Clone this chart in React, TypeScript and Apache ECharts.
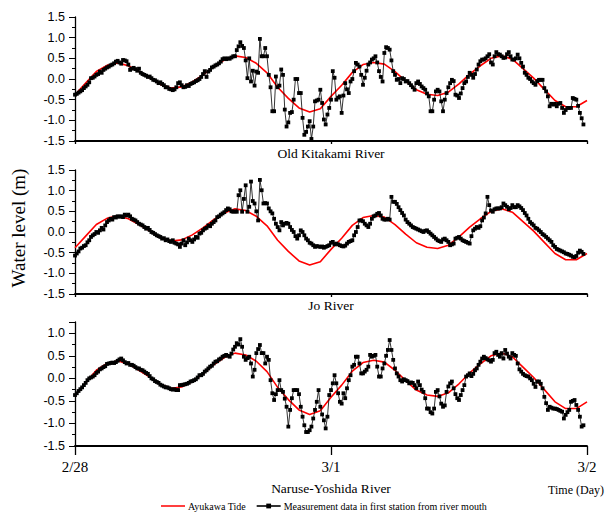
import React, { useEffect, useRef } from "react";
import * as echarts from "echarts";

// Hourly Ayukawa tide (m), t = 0..48 h from 2/28 00:00
const TIDE = [
  -0.38, -0.1, 0.18, 0.33, 0.39, 0.32, 0.18, 0.03, -0.13, -0.22, -0.19, -0.07,
  0.1, 0.3, 0.46, 0.56, 0.52, 0.38, 0.15, -0.2, -0.47, -0.7, -0.8, -0.72,
  -0.42, -0.15, 0.16, 0.35, 0.4, 0.36, 0.18, -0.05, -0.26, -0.37, -0.4, -0.32,
  -0.12, 0.12, 0.32, 0.5, 0.56, 0.48, 0.25, 0.02, -0.25, -0.52, -0.67, -0.67, -0.52,
];

// Measurement data, 10-minute steps from 2/28 00:00
const OLD_KITAKAMI = [
  -0.38, -0.36, -0.33, -0.3, -0.27, -0.22,
  -0.18, -0.14, -0.08, 0.02, 0.03, 0.06,
  0.1, 0.12, 0.18, 0.15, 0.22, 0.25,
  0.28, 0.3, 0.33, 0.35, 0.38, 0.42,
  0.44, 0.4, 0.37, 0.46, 0.45, 0.43,
  0.35, 0.22, 0.25, 0.27, 0.24, 0.2,
  0.25, 0.15, 0.12, 0.1, 0.08, 0.05,
  0.06, 0.02, -0.02, -0.03, -0.06, -0.1,
  -0.08, -0.12, -0.15, -0.2, -0.2, -0.24,
  -0.25, -0.27, -0.25, -0.2, -0.1, -0.08,
  -0.15, -0.2, -0.19, -0.15, -0.17, -0.12,
  -0.1, -0.08, -0.05, -0.03, 0.0, 0.05,
  0.12, 0.19, 0.05, 0.18, 0.22, 0.28,
  0.3, 0.33, 0.35, 0.38, 0.42, 0.48,
  0.5, 0.48, 0.5, 0.49, 0.52, 0.55,
  0.55, 0.7, 0.79, 0.89, 0.8, 0.75,
  0.45, 0.02, 0.5, -0.06, 0.2, -0.16,
  0.18, 0.15, 0.97, 0.55, 0.55, 0.75,
  0.55, 0.1, -0.2, -0.78, -0.78, 0.06,
  -0.2, -0.16, 0.23, 0.1, -0.74, -1.15,
  -1.05, -0.82, -0.8, -0.5, 0.0, 0.0,
  -0.34, -0.34, -0.94, -1.35, -1.28, -1.15,
  -1.02, -1.45, -1.15, -0.54, -0.52, -0.5,
  -0.26, -0.58, -0.98, -1.1, -0.86, -0.7,
  -0.5, 0.19, 0.03, -0.5, -0.45, -0.42,
  -0.82, -0.4, -0.1, -0.25, -0.34, -0.06,
  0.0, 0.19, 0.39, 0.35, 0.3, 0.1,
  -0.14, 0.03, 0.2, 0.35, 0.4, 0.47,
  0.5, 0.55, 0.4, 0.19, 0.05, -0.06,
  0.63, 0.77, 0.75, 0.71, 0.45, 0.19,
  0.1, -0.02, 0.0, -0.1, 0.02, 0.0,
  -0.06, -0.05, -0.1, -0.15, -0.2, -0.26,
  -0.1, -0.06, -0.12, -0.18, -0.22, -0.26,
  -0.35, -0.42, -0.78, -0.78, -0.5, -0.3,
  -0.26, -0.3, -0.54, -0.78, -0.5, -0.34,
  -0.2, -0.1, -0.02, -0.05, -0.38, -0.4,
  -0.46, -0.35, -0.22, -0.1, -0.06, 0.05,
  0.15, 0.1, 0.03, 0.12, 0.23, 0.35,
  0.43, 0.47, 0.47, 0.5, 0.55, 0.6,
  0.4, 0.35, 0.55, 0.65, 0.6, 0.59,
  0.55, 0.51, 0.52, 0.6, 0.65, 0.55,
  0.47, 0.47, 0.5, 0.59, 0.5, 0.39,
  0.3, 0.15, 0.1, 0.03, 0.0, -0.06,
  -0.1, -0.14, -0.05, -0.02, -0.02, -0.02,
  -0.22, -0.3, -0.42, -0.66, -0.6, -0.62,
  -0.6, -0.66, -0.6, -0.58, -0.7, -0.82,
  -0.75, -0.7, -0.7, -0.7, -0.46, -0.48,
  -0.5, -0.65, -0.82, -0.95, -1.1,
];

const JO = [
  -0.57, -0.52, -0.47, -0.4, -0.38, -0.34,
  -0.32, -0.25, -0.2, -0.12, -0.08, -0.05,
  0.0, -0.02, 0.04, 0.1, 0.06, 0.16,
  0.24, 0.28, 0.32, 0.3, 0.36, 0.35,
  0.38, 0.37, 0.38, 0.36, 0.42, 0.4,
  0.42, 0.38, 0.32, 0.3, 0.28, 0.24,
  0.2, 0.18, 0.16, 0.12, 0.08, 0.1,
  0.05, 0.0, -0.02, -0.05, -0.08, -0.1,
  -0.12, -0.16, -0.15, -0.2, -0.18, -0.22,
  -0.24, -0.2, -0.26, -0.28, -0.3, -0.36,
  -0.28, -0.2, -0.32, -0.25, -0.16, -0.2,
  -0.24, -0.18, -0.12, -0.14, -0.04, -0.02,
  0.04, 0.08, 0.1, 0.16, 0.14, 0.2,
  0.24, 0.28, 0.36, 0.38, 0.42, 0.45,
  0.48, 0.53, 0.57, 0.55, 0.5, 0.49,
  0.5, 0.49, 0.89, 1.01, 0.49, 0.8,
  1.13, 0.49, 0.61, 1.22, 0.75, 0.69,
  0.5, 0.28, 1.26, 1.01, 0.69, 0.7,
  0.69, 0.57, 0.5, 0.45, 0.32, 0.2,
  0.12, 0.04, 0.24, 0.16, 0.2, 0.22,
  0.2, 0.12, 0.05, 0.0, -0.1, -0.16,
  -0.08, 0.04, 0.0, -0.08, -0.16, -0.2,
  -0.26, -0.28, -0.32, -0.36, -0.34, -0.35,
  -0.36, -0.35, -0.38, -0.36, -0.34, -0.32,
  -0.26, -0.24, -0.3, -0.28, -0.3, -0.32,
  -0.34, -0.35, -0.33, -0.28, -0.24, -0.22,
  -0.2, -0.08, 0.0, 0.12, 0.28, 0.28,
  0.26, 0.2, 0.16, 0.12, 0.2, 0.32,
  0.38, 0.4, 0.44, 0.46, 0.4, 0.32,
  0.3, 0.3, 0.32, 0.3, 0.85, 0.73,
  0.73, 0.68, 0.6, 0.53, 0.46, 0.4,
  0.3, 0.24, 0.2, 0.16, 0.12, 0.1,
  0.08, 0.06, 0.04, 0.02, 0.0, 0.03,
  0.04, 0.0, -0.04, -0.08, -0.12, -0.16,
  -0.2, -0.22, -0.24, -0.18, -0.16, -0.2,
  -0.24, -0.32, -0.3, -0.28, -0.16, -0.14,
  -0.12, -0.16, -0.2, -0.22, -0.24, -0.26,
  -0.28, -0.1, 0.04, 0.08, 0.12, 0.1,
  0.14, 0.28, 0.35, 0.45, 0.85, 0.65,
  0.52, 0.49, 0.55, 0.57, 0.57, 0.57,
  0.6, 0.69, 0.65, 0.61, 0.55, 0.58,
  0.65, 0.6, 0.6, 0.65, 0.62, 0.58,
  0.53, 0.46, 0.4, 0.32, 0.24, 0.2,
  0.16, 0.1, 0.08, 0.04, 0.0, -0.05,
  -0.08, -0.12, -0.16, -0.2, -0.24, -0.32,
  -0.36, -0.41, -0.43, -0.45, -0.47, -0.49,
  -0.52, -0.53, -0.55, -0.57, -0.6, -0.61,
  -0.58, -0.5, -0.45, -0.48, -0.53,
];

const NARUSE_YOSHIDA = [
  -0.37, -0.33, -0.28, -0.24, -0.2, -0.15,
  -0.1, -0.04, 0.0, 0.02, 0.04, 0.07,
  0.12, 0.15, 0.2, 0.22, 0.25, 0.27,
  0.32, 0.33, 0.34, 0.35, 0.34, 0.36,
  0.39, 0.42, 0.44, 0.4, 0.36, 0.33,
  0.34, 0.3, 0.3, 0.28, 0.25, 0.22,
  0.22, 0.19, 0.18, 0.15, 0.12, 0.1,
  0.05, 0.0, -0.02, -0.06, -0.08, -0.1,
  -0.14, -0.16, -0.18, -0.2, -0.2, -0.22,
  -0.24, -0.25, -0.24, -0.26, -0.26, -0.15,
  -0.15, -0.14, -0.13, -0.12, -0.1, -0.07,
  -0.06, -0.04, -0.02, 0.02, 0.07, 0.07,
  0.1, 0.15, 0.18, 0.22, 0.26, 0.28,
  0.33, 0.37, 0.38, 0.42, 0.44, 0.48,
  0.5, 0.52, 0.5, 0.48, 0.55, 0.64,
  0.7, 0.78, 0.75, 0.87, 0.7, 0.48,
  0.41, 0.45, 0.48, 0.33, 0.04, 0.19,
  0.56, 0.65, 0.74, 0.56, 0.56, 0.33,
  0.48, 0.41, -0.04, -0.33, -0.48, -0.35,
  -0.26, -0.04, -0.26, -0.3, -0.45, -0.63,
  -1.07, -0.7, -0.44, -0.26, -0.26, -0.26,
  -0.35, -0.63, -0.85, -1.04, -1.19, -1.19,
  -1.15, -1.07, -0.89, -0.7, -0.52, -0.26,
  -0.63, -0.8, -0.93, -1.11, -0.85, -0.37,
  -0.26, -0.11, 0.07, -0.11, -0.33, -0.52,
  -0.56, -0.33, -0.44, -0.22, -0.04, 0.07,
  0.26, 0.3, 0.48, 0.48, 0.33, 0.11,
  0.11, 0.15, 0.19, 0.26, 0.52, 0.48,
  0.5, 0.52, 0.26, 0.04, 0.04, 0.22,
  0.33, 0.5, 0.63, 0.85, 0.63, 0.41,
  0.22, 0.11, 0.04, -0.04, -0.07, -0.02,
  -0.04, -0.06, -0.11, -0.09, -0.1, -0.15,
  -0.22, -0.07, -0.15, -0.25, -0.3, -0.44,
  -0.67, -0.67, -0.75, -0.78, -0.67, -0.3,
  -0.26, -0.4, -0.56, -0.63, -0.6, -0.3,
  -0.18, -0.11, -0.07, -0.22, -0.35, -0.44,
  -0.48, -0.37, -0.26, -0.15, 0.04, 0.07,
  0.11, 0.05, 0.1, 0.18, 0.22, 0.3,
  0.37, 0.44, 0.48, 0.45, 0.42, 0.4,
  0.37, 0.41, 0.56, 0.59, 0.52, 0.48,
  0.56, 0.44, 0.63, 0.55, 0.48, 0.44,
  0.56, 0.52, 0.5, 0.33, 0.2, 0.15,
  0.1, 0.07, 0.05, 0.04, 0.0, -0.04,
  -0.12, -0.19, -0.07, -0.07, -0.12, -0.22,
  -0.41, -0.55, -0.7, -0.63, -0.65, -0.67,
  -0.67, -0.68, -0.7, -0.72, -0.74, -0.89,
  -0.81, -0.75, -0.7, -0.52, -0.5, -0.48,
  -0.59, -0.7, -0.85, -1.07, -1.04,
];

const PANEL_TITLES = ["Old Kitakami River", "Jo River", "Naruse-Yoshida River"];
const X_TICK_LABELS: Record<number, string> = { 0: "2/28", 24: "3/1", 48: "3/2" };
const TIDE_NAME = "Ayukawa Tide";
const MEAS_NAME = "Measurement data in first station from river mouth";

const SERIF = "'Liberation Serif', 'Times New Roman', serif";
const SANS = "'Liberation Sans', Arial, sans-serif";

// thin horizontal bar icon inside a 24x6 box (corner dots keep the box size)
const LINE_ICON =
  "path://M0,0L0.01,0L0.01,0.01ZM0,2.2L24,2.2L24,3.8L0,3.8ZM23.99,5.99L24,5.99L24,6Z";

export default function App() {
  const ref = useRef<HTMLDivElement>(null);

  useEffect(() => {
    if (!ref.current) return;
    const chart = echarts.init(ref.current, undefined, { renderer: "svg" });

    const panels = [
      { data: OLD_KITAKAMI, top: 17, height: 124, max: 1.5 },
      { data: JO, top: 170, height: 124, max: 1.5 },
      { data: NARUSE_YOSHIDA, top: 322, height: 124, max: 1.25 },
    ];

    const grids = panels.map((p) => ({
      left: 75,
      width: 512,
      top: p.top,
      height: p.height,
      containLabel: false,
    }));

    const xAxes = panels.map((p, i) => ({
      type: "value",
      gridIndex: i,
      min: 0,
      max: 48,
      interval: 24,
      axisLine: { show: true, onZero: false, lineStyle: { color: "#000", width: 1.8 } },
      axisTick: { show: true, length: i === 2 ? 9 : 3, lineStyle: { color: "#000", width: 1.3 } },
      axisLabel: {
        show: i === 2,
        margin: 13,
        color: "#000",
        fontFamily: SERIF,
        fontSize: 15,
        formatter: (v: number) => X_TICK_LABELS[v] ?? "",
      },
      splitLine: { show: false },
    }));

    const yAxes = panels.map((p, i) => ({
      type: "value",
      gridIndex: i,
      min: -1.5,
      max: p.max,
      interval: 0.5,
      axisLine: { show: true, onZero: false, lineStyle: { color: "#000", width: 1.3 } },
      axisTick: { show: true, length: 6, lineStyle: { color: "#000", width: 1 } },
      minorTick: { show: true, splitNumber: 2, length: 3, lineStyle: { color: "#000", width: 1 } },
      axisLabel: {
        margin: 10,
        color: "#000",
        fontFamily: SANS,
        fontSize: 12.5,
        formatter: (v: number) =>
          Math.abs(v * 2 - Math.round(v * 2)) < 1e-6 ? v.toFixed(1) : "",
      },
      splitLine: { show: false },
    }));

    const series: any[] = [];
    panels.forEach((p, i) => {
      series.push({
        name: TIDE_NAME,
        type: "line",
        xAxisIndex: i,
        yAxisIndex: i,
        symbol: "none",
        data: TIDE.map((v, h) => [h, v]),
        lineStyle: { color: "#ff0000", width: 1.6 },
        itemStyle: { color: "#ff0000" },
        z: 2,
      });
      series.push({
        name: MEAS_NAME,
        type: "line",
        xAxisIndex: i,
        yAxisIndex: i,
        symbol: "rect",
        symbolSize: 3.8,
        showSymbol: true,
        data: p.data.map((v, k) => [k / 6, v]),
        lineStyle: { color: "#000", width: 0.8 },
        itemStyle: { color: "#000" },
        z: 3,
      });
    });

    const titleYs = [153, 305, 488];
    const graphic: any[] = PANEL_TITLES.map((t, i) => ({
      type: "text",
      x: 331,
      y: titleYs[i],
      style: {
        text: t,
        fill: "#000",
        font: `13.5px ${SERIF}`,
        align: "center",
        verticalAlign: "middle",
        textAlign: "center",
        textVerticalAlign: "middle",
      },
    }));
    graphic.push({
      type: "text",
      x: 576,
      y: 490,
      style: {
        text: "Time (Day)",
        fill: "#000",
        font: `12px ${SERIF}`,
        align: "center",
        verticalAlign: "middle",
        textAlign: "center",
        textVerticalAlign: "middle",
      },
    });
    graphic.push({
      type: "text",
      x: 18,
      y: 228,
      rotation: Math.PI / 2,
      style: {
        text: "Water level (m)",
        fill: "#000",
        font: `19px ${SERIF}`,
        align: "center",
        verticalAlign: "middle",
        textAlign: "center",
        textVerticalAlign: "middle",
      },
    });

    chart.setOption({
      animation: false,
      backgroundColor: "#fff",
      grid: grids,
      xAxis: xAxes,
      yAxis: yAxes,
      series,
      graphic,
      legend: {
        data: [{ name: TIDE_NAME, icon: LINE_ICON }, { name: MEAS_NAME }],
        left: 161,
        top: 501,
        itemWidth: 24,
        itemHeight: 6,
        itemGap: 10,
        padding: 0,
        textStyle: { fontFamily: SERIF, fontSize: 10, color: "#000", padding: [0, 0, 0, -2] },
        lineStyle: { width: 1.6 },
      },
    });

    return () => chart.dispose();
  }, []);

  return (
    <div
      ref={ref}
      style={{ position: "absolute", left: 0, top: 0, width: 613, height: 515, background: "#fff" }}
    />
  );
}
